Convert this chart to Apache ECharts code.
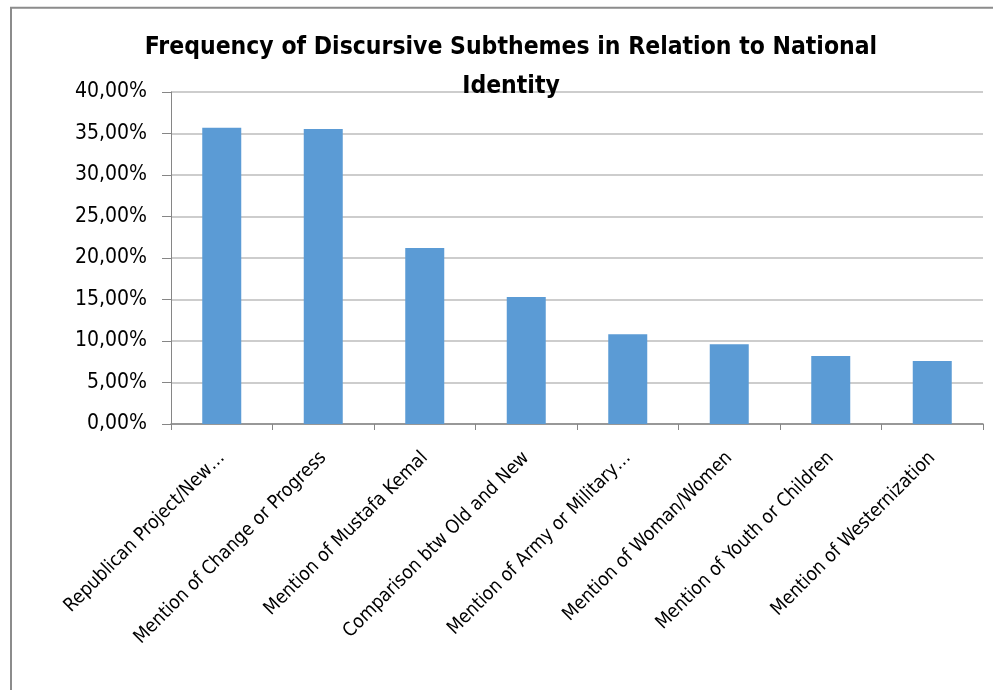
<!DOCTYPE html>
<html><head><meta charset="utf-8">
<script src="https://cdn.jsdelivr.net/npm/echarts@6/dist/echarts.min.js"></script>
<style>html,body{margin:0;padding:0;background:#fff}#c{width:993px;height:690px}</style>
</head><body><div id="c"></div>
<script>
const categories = ["Republican Project/New…","Mention of Change or Progress","Mention of Mustafa Kemal","Comparison btw Old and New","Mention of Army or Military…","Mention of Woman/Women","Mention of Youth or Children","Mention of Westernization"];
const values = [35.7, 35.55, 21.2, 15.3, 10.8, 9.6, 8.2, 7.6];
const titleLines = ["Frequency of Discursive Subthemes in Relation to National","Identity"];
const FONT = "'DejaVu Sans Condensed','Liberation Sans Narrow',sans-serif";
const chart = echarts.init(document.getElementById('c'));
chart.setOption({
  animation:false,
  backgroundColor:'#fff',
  graphic:[
    {type:'rect',shape:{x:11,y:7.7,width:1100,height:800},style:{fill:'none',stroke:'#8c8c8c',lineWidth:2},z:-1}
  ],
  title:{text:titleLines.join('\n'),left:506,top:23,textAlign:'center',
    textStyle:{fontFamily:FONT,fontWeight:'bold',fontSize:24.5,lineHeight:39,color:'#000'}},
  grid:{left:171,right:10,top:92,bottom:266,containLabel:false},
  xAxis:{type:'category',data:categories,
    axisLine:{lineStyle:{color:'#868686',width:1.5}},
    axisTick:{show:true,length:6,lineStyle:{color:'#868686'}},
    axisLabel:{rotate:45,interval:0,fontFamily:FONT,fontSize:19,color:'#000',margin:31}},
  yAxis:{type:'value',min:0,max:40,interval:5,
    axisLine:{show:true,lineStyle:{color:'#868686'}},
    axisTick:{show:true,length:9,lineStyle:{color:'#868686'}},
    splitLine:{lineStyle:{color:'#bdbdbd',width:1.5}},
    axisLabel:{fontFamily:FONT,fontSize:21,color:'#000',margin:24,
      formatter:v=>v.toFixed(2).replace('.',',')+'%'}},
  series:[{type:'bar',data:values,barWidth:39,itemStyle:{color:'#5b9bd5'}}]
});
</script></body></html>
